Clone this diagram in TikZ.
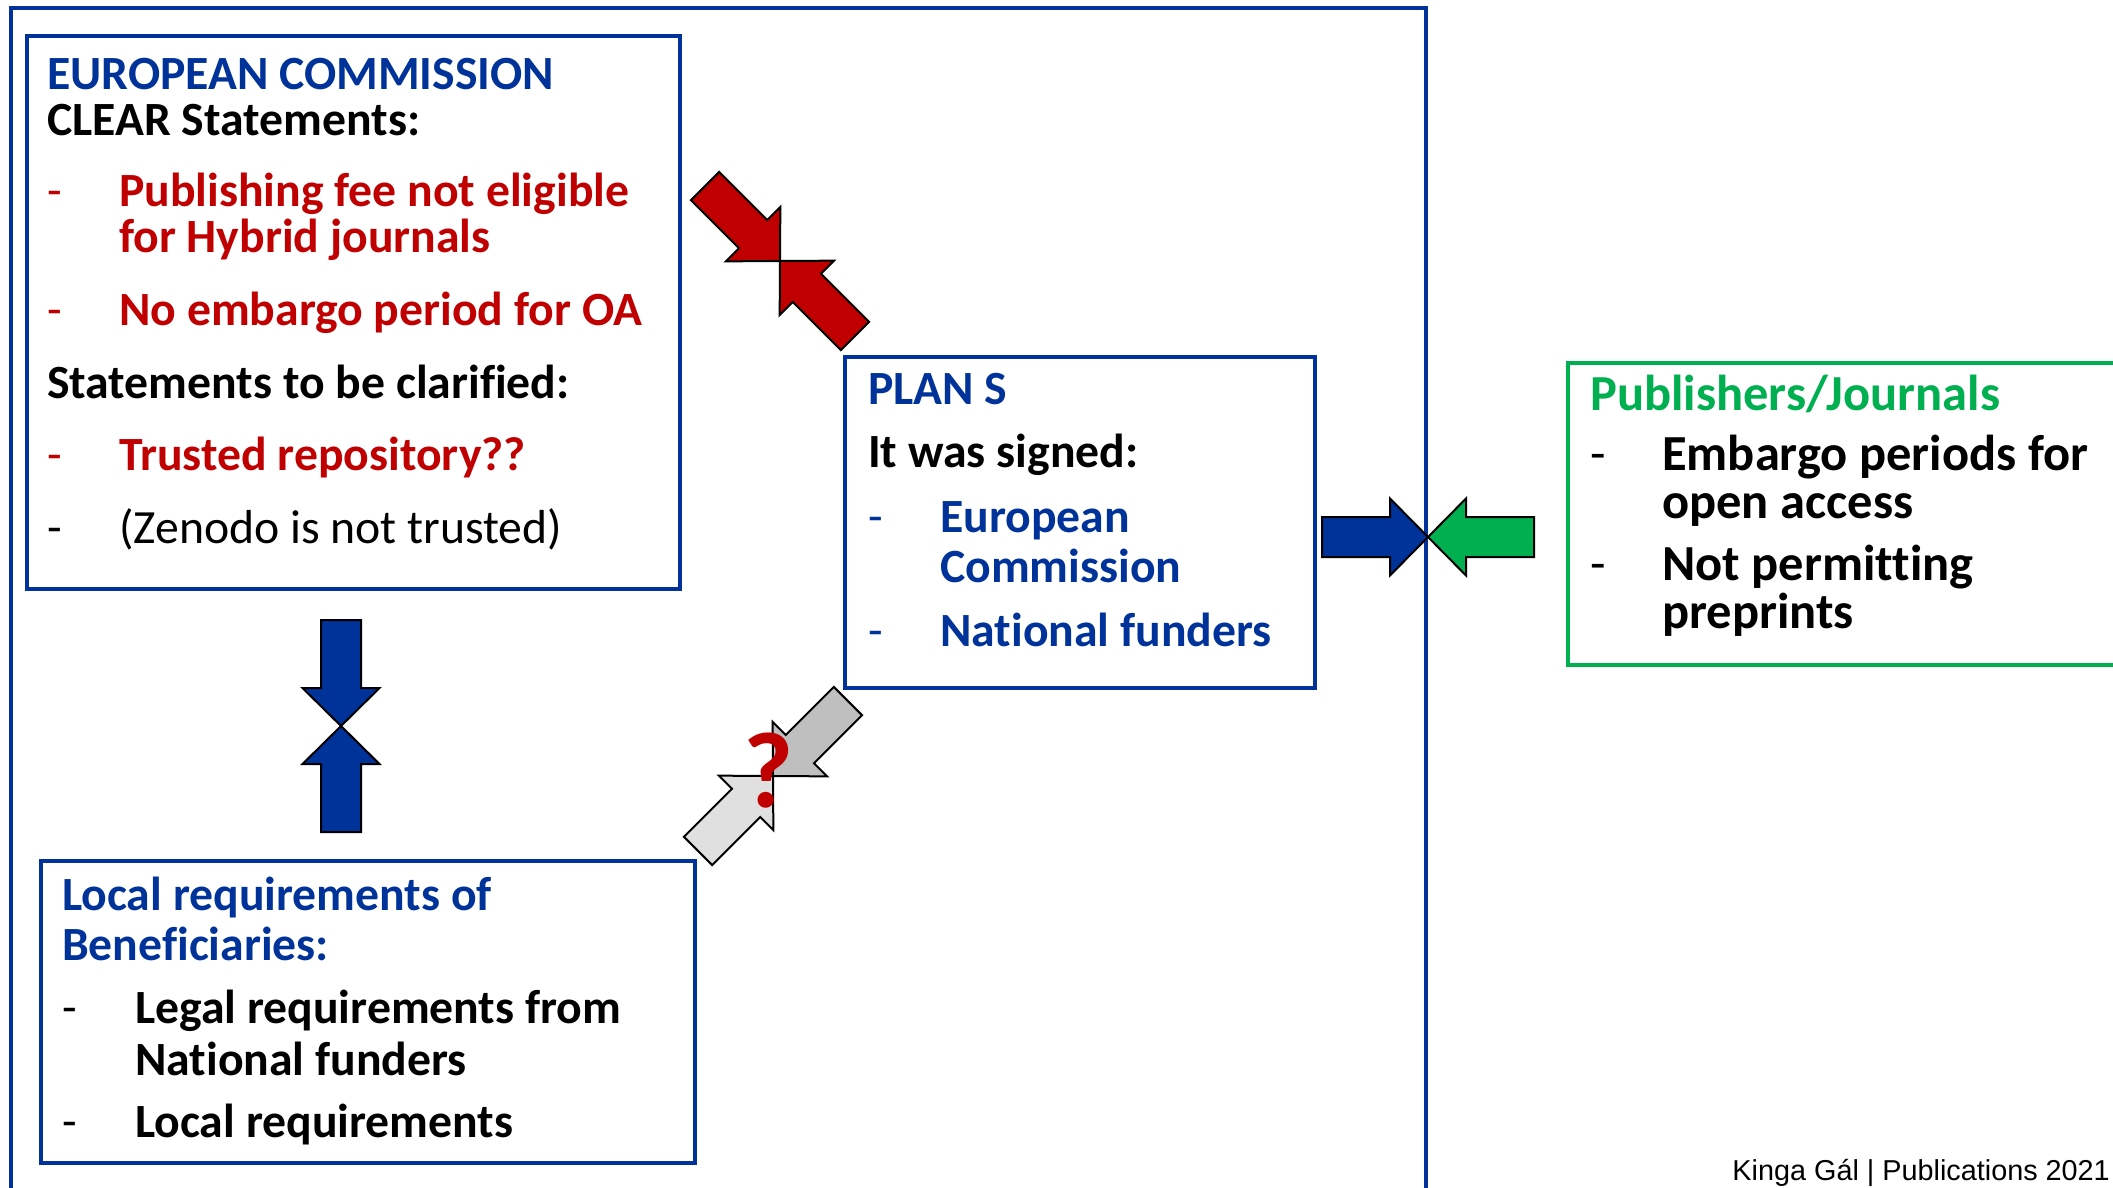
\documentclass[tikz,border=0pt]{standalone}
\usepackage{fontspec}
\setmainfont{Carlito}[Ligatures=NoCommon]
\newfontfamily\footfont{Liberation Sans}
\definecolor{ecblue}{HTML}{003399}
\definecolor{ecred}{HTML}{C00000}
\definecolor{pubgreen}{HTML}{00B050}
\definecolor{qgray}{HTML}{BFBFBF}
\definecolor{qlight}{HTML}{E0E0E0}
\tikzstyle{frame}=[draw=ecblue,line width=4pt]
\tikzstyle{box}=[draw=ecblue,line width=4pt,anchor=north west,inner sep=0pt]
\tikzstyle{txt}=[anchor=base west,inner sep=0pt,font=\bfseries\fontsize{47.7}{47.7}\selectfont]
\tikzstyle{plain}=[txt,font=\fontsize{47.7}{47.7}\selectfont]
\tikzstyle{pubtxt}=[txt,font=\bfseries\fontsize{50.5}{50.5}\selectfont]
\tikzstyle{pubplain}=[txt,font=\fontsize{50.5}{50.5}\selectfont]
\tikzset{
  pics/blockarrow/.style={code={
    \draw[pic actions,line width=2pt,line join=miter]
      (0,0) -- (-38,38.5) -- (-38,20) -- (-106,20) -- (-106,-20)
      -- (-38,-20) -- (-38,-38.5) -- cycle;
  }}
}

\begin{document}
\begin{tikzpicture}[x=1pt,y=-1pt]
  \useasboundingbox (0,0) rectangle (2113,1187);

  % outer frame, open at the bottom of the slide
  \draw[frame] (11,1200) -- (11,8) -- (1426,8) -- (1426,1200);

  % the four boxes
  \node[box,minimum width=653pt,minimum height=553pt] (ec) at (25,34) {};
  \node[box,minimum width=470pt,minimum height=331pt] (plans) at (843,355) {};
  \node[box,draw=pubgreen,minimum width=600pt,minimum height=302pt] (pub) at (1566,361) {};
  \node[box,minimum width=654pt,minimum height=302pt] (local) at (39,859) {};

  % european commission
  \node[txt,text=ecblue] (ectitle) at (47,89) {EUROPEAN COMMISSION};
  \node[txt] (ecclear) at (47,135) {CLEAR Statements:};
  \node[txt] (ecclarify) at (47,398) {Statements to be clarified:};
  \foreach \y/\line in {206/Publishing fee not eligible,252/for Hybrid journals,
    325/No embargo period for OA,470/Trusted repository??}
    \node[txt,text=ecred] (ec-\y) at (119,\y) {\line};
  \foreach \y in {206,325,470}
    \node[plain,text=ecred] (ecdash-\y) at (47,\y) {-};
  \node[plain] (eczenodo) at (119,543) {(Zenodo is not trusted)};
  \node[plain] (ecdash-543) at (47,543) {-};

  % plan s
  \node[txt,text=ecblue] (pstitle) at (868,404) {PLAN S};
  \node[txt] (pssigned) at (868,467) {It was signed:};
  \foreach \y/\line in {532/European,582/Commission,646/National funders}
    \node[txt,text=ecblue] (ps-\y) at (940,\y) {\line};
  \foreach \y in {532,646}
    \node[plain,text=ecblue] (psdash-\y) at (868,\y) {-};

  % publishers
  \node[pubtxt,text=pubgreen] (pubtitle) at (1590,410) {Publishers/Journals};
  \foreach \y/\line in {470/Embargo periods for,518/open access,580/Not permitting,628/preprints}
    \node[pubtxt] (pub-\y) at (1662,\y) {\line};
  \foreach \y in {470,580}
    \node[pubplain] (pubdash-\y) at (1590,\y) {-};

  % local requirements
  \node[txt,text=ecblue] (loctitle) at (62,910) {Local requirements of};
  \node[txt,text=ecblue] (locbenef) at (62,960) {Beneficiaries:};
  \foreach \y/\line in {1023/Legal requirements from,1075/National funders,1137/Local requirements}
    \node[txt] (loc-\y) at (135,\y) {\line};
  \foreach \y in {1023,1137}
    \node[plain] (locdash-\y) at (62,\y) {-};

  % meeting points of the block arrows
  \coordinate (ecmeet) at (341,726);
  \coordinate (redmeet) at (780,261);
  \coordinate (graymeet) at (773,776);
  \coordinate (pubmeet) at (1428,537);

  \pic[fill=ecblue,rotate=-90] at (ecmeet) {blockarrow};
  \pic[fill=ecblue,rotate=90] at (ecmeet) {blockarrow};
  \pic[fill=ecred,rotate=-45] at (redmeet) {blockarrow};
  \pic[fill=ecred,rotate=135] at (redmeet) {blockarrow};
  \pic[fill=qgray,rotate=-135] at (graymeet) {blockarrow};
  \pic[fill=qlight,rotate=45] at (graymeet) {blockarrow};
  \pic[fill=ecblue] at (pubmeet) {blockarrow};
  \pic[fill=pubgreen,rotate=180] at (pubmeet) {blockarrow};

  \node[anchor=base,inner sep=0pt,text=ecred,font=\bfseries\fontsize{108}{108}\selectfont] (qmark) at (769,807) {?};

  \node[anchor=base east,inner sep=0pt,font=\footfont\fontsize{28.8}{28.8}\selectfont] (footer) at (2110,1180) {Kinga Gál | Publications 2021};
\end{tikzpicture}
\end{document}
